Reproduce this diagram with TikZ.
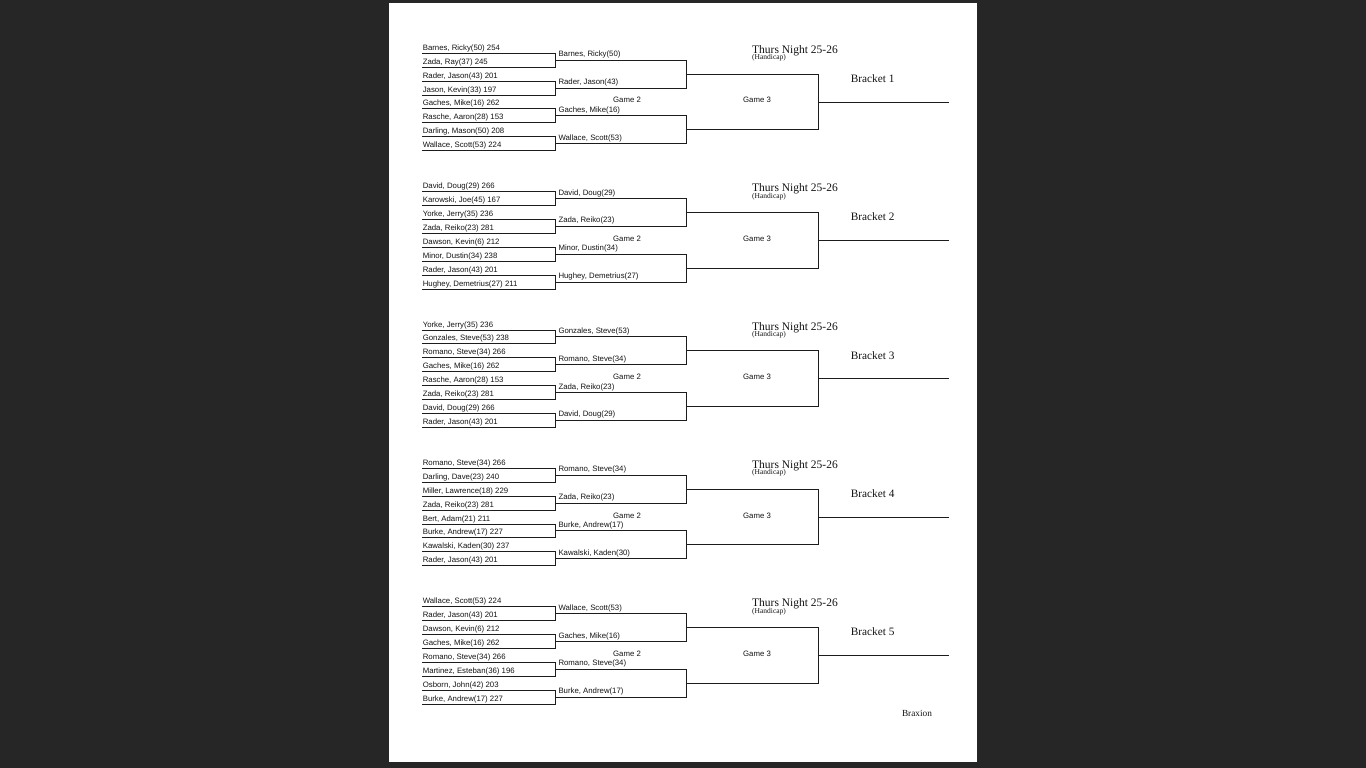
\documentclass[tikz,border=0pt]{standalone}
\usepackage{fontspec}
\setmainfont{Liberation Serif}
\setsansfont{Liberation Sans}
\definecolor{ScreenGray}{RGB}{38,38,38}
\definecolor{LineBlack}{RGB}{28,28,28}
\definecolor{TextBlack}{RGB}{20,20,20}

\begin{document}
\begin{tikzpicture}[x=1pt,y=-1pt,text=TextBlack,
  player/.style={anchor=base west,inner sep=0pt,xshift=0.6pt,yshift=3pt,font=\fontsize{7.8}{9}\sffamily},
  winner/.style={anchor=base west,inner sep=0pt,xshift=3.3pt,yshift=3.5pt,font=\fontsize{7.8}{9}\sffamily},
  game/.style={inner sep=0pt,font=\fontsize{7.8}{9}\sffamily},
  wire/.style={LineBlack,line width=1pt}]
  \useasboundingbox (0,0) rectangle (1366,768);
  \fill[ScreenGray] (0,0) rectangle (1366,768);
  \fill[white] (389,3) rectangle (977,762);

  % kerangka bracket
  \foreach \k in {1,...,5}{
    \pgfmathsetmacro{\yTop}{53.3+(\k-1)*138.35}
    \foreach \i in {1,...,8}
      \coordinate (b\k-p\i) at (422,{\yTop+(\i-1)*13.92});
    \foreach \j in {1,...,4}
      \coordinate (b\k-m\j) at (555,{\yTop+(2*\j-1.5)*13.92});
    \coordinate (b\k-s1) at (686,{\yTop+1.5*13.92});
    \coordinate (b\k-s2) at (686,{\yTop+5.5*13.92});
    \coordinate (b\k-f) at (818,{\yTop+3.5*13.92});
    \coordinate (b\k-e) at (949,{\yTop+3.5*13.92});

    % babak 1 dan 2
    \foreach \j in {1,...,4}{
      \pgfmathtruncatemacro{\pa}{2*\j-1}
      \pgfmathtruncatemacro{\pb}{2*\j}
      \draw[wire] (b\k-p\pa) -- (b\k-p\pa -| b\k-m\j) -- (b\k-p\pb -| b\k-m\j) -- (b\k-p\pb);
    }
    \draw[wire] (b\k-m1) -- (b\k-m1 -| b\k-s1) -- (b\k-m2 -| b\k-s1) -- (b\k-m2);
    \draw[wire] (b\k-m3) -- (b\k-m3 -| b\k-s2) -- (b\k-m4 -| b\k-s2) -- (b\k-m4);
    % babak 3 dan final
    \draw[wire] (b\k-s1) -- (b\k-s1 -| b\k-f) -- (b\k-s2 -| b\k-f) -- (b\k-s2);
    \draw[wire] (b\k-f) -- (b\k-e);

    % label game dan judul
    \node[game] (b\k-g2) at (627,{\yTop+47}) {Game 2};
    \node[game] (b\k-g3) at (757,{\yTop+47}) {Game 3};
    \node[anchor=base west,inner sep=0pt,font=\fontsize{11.5}{13}\rmfamily] (b\k-title) at (752,{\yTop}) {Thurs Night 25-26};
    \node[anchor=base west,inner sep=0pt,font=\fontsize{7.5}{8}\rmfamily] (b\k-hc) at (752,{\yTop+6.6}) {(Handicap)};
    \node[anchor=base west,inner sep=0pt,font=\fontsize{11.3}{13}\rmfamily] (b\k-name) at (850.7,{\yTop+29}) {Bracket \k};
  }

  % Bracket 1
  \foreach \i/\t in {1/{Barnes, Ricky(50) 254},2/{Zada, Ray(37) 245},3/{Rader, Jason(43) 201},4/{Jason, Kevin(33) 197},
    5/{Gaches, Mike(16) 262},6/{Rasche, Aaron(28) 153},7/{Darling, Mason(50) 208},8/{Wallace, Scott(53) 224}}
    \node[player] (b1-t\i) at (b1-p\i) {\t};
  \foreach \j/\t in {1/{Barnes, Ricky(50)},2/{Rader, Jason(43)},3/{Gaches, Mike(16)},4/{Wallace, Scott(53)}}
    \node[winner] (b1-w\j) at (b1-m\j) {\t};

  % Bracket 2
  \foreach \i/\t in {1/{David, Doug(29) 266},2/{Karowski, Joe(45) 167},3/{Yorke, Jerry(35) 236},4/{Zada, Reiko(23) 281},
    5/{Dawson, Kevin(6) 212},6/{Minor, Dustin(34) 238},7/{Rader, Jason(43) 201},8/{Hughey, Demetrius(27) 211}}
    \node[player] (b2-t\i) at (b2-p\i) {\t};
  \foreach \j/\t in {1/{David, Doug(29)},2/{Zada, Reiko(23)},3/{Minor, Dustin(34)},4/{Hughey, Demetrius(27)}}
    \node[winner] (b2-w\j) at (b2-m\j) {\t};

  % Bracket 3
  \foreach \i/\t in {1/{Yorke, Jerry(35) 236},2/{Gonzales, Steve(53) 238},3/{Romano, Steve(34) 266},4/{Gaches, Mike(16) 262},
    5/{Rasche, Aaron(28) 153},6/{Zada, Reiko(23) 281},7/{David, Doug(29) 266},8/{Rader, Jason(43) 201}}
    \node[player] (b3-t\i) at (b3-p\i) {\t};
  \foreach \j/\t in {1/{Gonzales, Steve(53)},2/{Romano, Steve(34)},3/{Zada, Reiko(23)},4/{David, Doug(29)}}
    \node[winner] (b3-w\j) at (b3-m\j) {\t};

  % Bracket 4
  \foreach \i/\t in {1/{Romano, Steve(34) 266},2/{Darling, Dave(23) 240},3/{Miller, Lawrence(18) 229},4/{Zada, Reiko(23) 281},
    5/{Bert, Adam(21) 211},6/{Burke, Andrew(17) 227},7/{Kawalski, Kaden(30) 237},8/{Rader, Jason(43) 201}}
    \node[player] (b4-t\i) at (b4-p\i) {\t};
  \foreach \j/\t in {1/{Romano, Steve(34)},2/{Zada, Reiko(23)},3/{Burke, Andrew(17)},4/{Kawalski, Kaden(30)}}
    \node[winner] (b4-w\j) at (b4-m\j) {\t};

  % Bracket 5
  \foreach \i/\t in {1/{Wallace, Scott(53) 224},2/{Rader, Jason(43) 201},3/{Dawson, Kevin(6) 212},4/{Gaches, Mike(16) 262},
    5/{Romano, Steve(34) 266},6/{Martinez, Esteban(36) 196},7/{Osborn, John(42) 203},8/{Burke, Andrew(17) 227}}
    \node[player] (b5-t\i) at (b5-p\i) {\t};
  \foreach \j/\t in {1/{Wallace, Scott(53)},2/{Gaches, Mike(16)},3/{Romano, Steve(34)},4/{Burke, Andrew(17)}}
    \node[winner] (b5-w\j) at (b5-m\j) {\t};

  \node[font=\fontsize{9.3}{11}\rmfamily] (braxion) at (917,713) {Braxion};
\end{tikzpicture}
\end{document}
